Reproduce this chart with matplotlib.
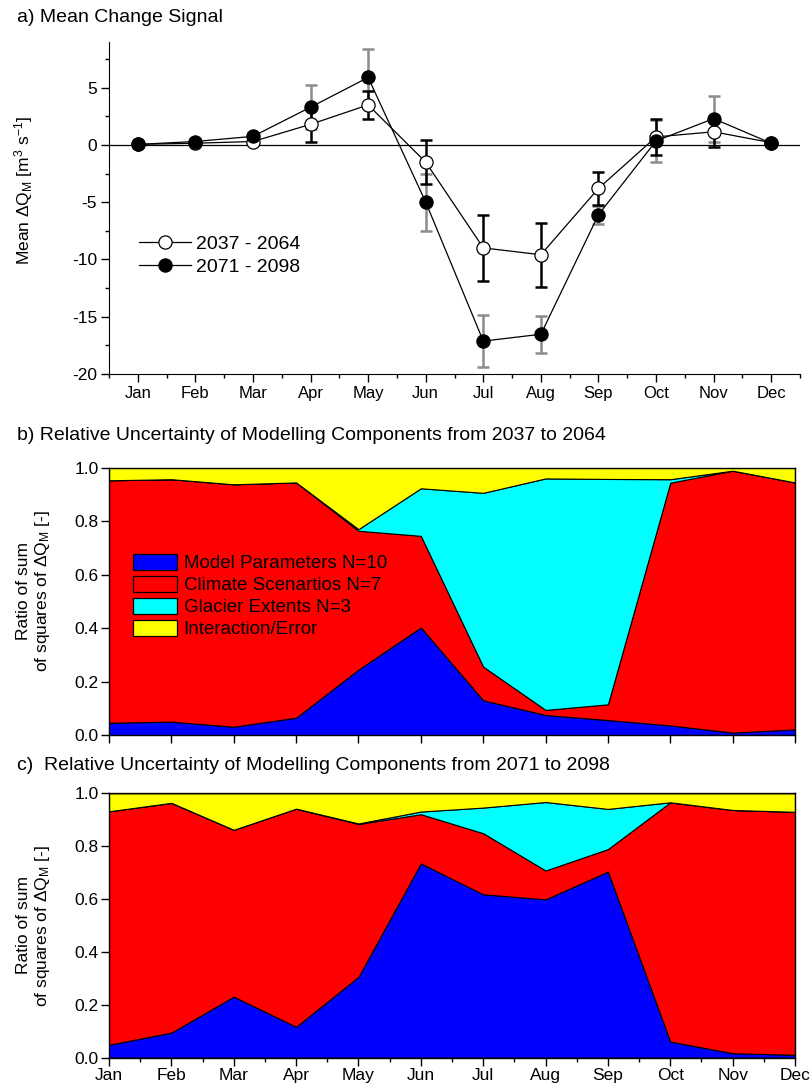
import matplotlib
matplotlib.use("Agg")
import matplotlib.pyplot as plt
import numpy as np
from matplotlib.patches import Patch

plt.rcParams['font.family'] = ['Liberation Sans', 'DejaVu Sans']
plt.rcParams['mathtext.fontset'] = 'custom'
plt.rcParams['mathtext.rm'] = 'Liberation Sans'
plt.rcParams['mathtext.it'] = 'Liberation Sans:italic'
plt.rcParams['mathtext.default'] = 'regular'
plt.rcParams['axes.unicode_minus'] = False

months = ['Jan', 'Feb', 'Mar', 'Apr', 'May', 'Jun', 'Jul', 'Aug', 'Sep', 'Oct', 'Nov', 'Dec']

# Panel a: mean change signal
mean_2037 = [0.05, 0.15, 0.3, 1.8, 3.5, -1.5, -9.0, -9.6, -3.8, 0.7, 1.15, 0.2]
err_2037 = [0.1, 0.15, 0.2, 1.5, 1.25, 1.95, 2.9, 2.8, 1.45, 1.6, 1.3, 0.15]
mean_2071 = [0.05, 0.3, 0.75, 3.3, 5.9, -5.0, -17.15, -16.55, -6.1, 0.35, 2.3, 0.15]
err_2071 = [0.1, 0.2, 0.3, 1.9, 2.5, 2.5, 2.3, 1.6, 0.8, 1.8, 2.0, 0.2]

# Panel b: 2037-2064 relative uncertainty components
b_model = [0.046, 0.050, 0.031, 0.065, 0.245, 0.403, 0.130, 0.075, 0.056, 0.036, 0.009, 0.021]
b_climate = [0.908, 0.908, 0.908, 0.881, 0.520, 0.343, 0.126, 0.019, 0.059, 0.909, 0.981, 0.925]
b_glacier = [0.0, 0.0, 0.0, 0.0, 0.006, 0.178, 0.651, 0.867, 0.844, 0.013, 0.0, 0.0]
b_inter = [0.046, 0.042, 0.061, 0.054, 0.229, 0.076, 0.093, 0.039, 0.041, 0.042, 0.010, 0.054]

# Panel c: 2071-2098 relative uncertainty components
c_model = [0.049, 0.095, 0.231, 0.117, 0.306, 0.735, 0.618, 0.599, 0.704, 0.061, 0.017, 0.011]
c_climate = [0.883, 0.869, 0.631, 0.825, 0.578, 0.186, 0.231, 0.109, 0.085, 0.905, 0.920, 0.919]
c_glacier = [0.0, 0.0, 0.0, 0.0, 0.002, 0.010, 0.097, 0.259, 0.152, 0.0, 0.0, 0.0]
c_inter = [0.068, 0.036, 0.138, 0.058, 0.114, 0.069, 0.054, 0.033, 0.059, 0.034, 0.063, 0.070]

comp_labels = ['Model Parameters N=10', 'Climate Scenartios N=7', 'Glacier Extents N=3', 'Interaction/Error']
comp_colors = ['#0000FF', '#FF0000', '#00FFFF', '#FFFF00']

W, H = 811, 1087
fig = plt.figure(figsize=(W / 100, H / 100), dpi=100)

def ax_rect(l, t, r, b):
    return [l / W, 1 - b / H, (r - l) / W, (b - t) / H]

x = np.arange(1, 13)
TICK_FS = 12.5
MONTH_FS = 12
TITLE_FS = 14
YLAB_FS = 12.5

# ---------- Panel a ----------
axa = fig.add_axes(ax_rect(109, 42, 800, 373.7))
axa.errorbar(x, mean_2071, yerr=err_2071, fmt='none', ecolor='#8c8c8c', elinewidth=1.8,
             capsize=4.5, capthick=1.8, zorder=2)
axa.errorbar(x, mean_2037, yerr=err_2037, fmt='none', ecolor='black', elinewidth=1.8,
             capsize=4.5, capthick=1.8, zorder=3)
axa.plot(x, mean_2037, '-', color='black', lw=0.9, marker='o', ms=9.5, mfc='white',
         mec='black', mew=0.9, zorder=4, label='2037 - 2064')
axa.plot(x, mean_2071, '-', color='black', lw=0.9, marker='o', ms=9.5, mfc='black',
         mec='black', mew=0.9, zorder=5, label='2071 - 2098')
axa.axhline(0, color='black', lw=0.9, zorder=1)
axa.set_xlim(0.5, 12.5)
axa.set_ylim(-20, 9)
axa.spines['top'].set_visible(False)
axa.spines['right'].set_visible(False)
axa.set_xticks(x)
axa.set_xticklabels(months, fontsize=MONTH_FS)
axa.set_xticks(np.arange(0.5, 13, 1), minor=True)
axa.set_yticks([-20, -15, -10, -5, 0, 5])
axa.set_yticks([-17.5, -12.5, -7.5, -2.5, 2.5, 7.5], minor=True)
axa.tick_params(axis='y', which='major', labelsize=TICK_FS)
axa.tick_params(axis='both', which='major', direction='out', length=5.5, width=1, pad=3)
axa.tick_params(axis='both', which='minor', direction='out', length=3, width=1)
axa.set_ylabel(r'Mean $\Delta$Q$_M$ [m$^3$ s$^{-1}$]', fontsize=YLAB_FS)
axa.yaxis.set_label_coords(-0.107, 0.554)
axa.legend(loc='center left', bbox_to_anchor=(0.03, 0.356), frameon=False, fontsize=14,
           handlelength=2.67, handletextpad=0.26, labelspacing=0.25, borderpad=0)

fig.text(17 / W, 1 - 18 / H, 'a) Mean Change Signal', fontsize=TITLE_FS, ha='left', va='center')

# ---------- Panels b, c ----------
def stack_panel(rect, comps, minor):
    ax = fig.add_axes(rect)
    ax.stackplot(x, *comps, colors=comp_colors, edgecolor='black', linewidth=0.8)
    ax.set_xlim(1, 12)
    ax.set_ylim(0, 1)
    ax.set_xticks(x)
    if minor:
        ax.set_xticks(np.arange(1.5, 12, 1), minor=True)
    ax.set_yticks([0, 0.2, 0.4, 0.6, 0.8, 1.0])
    ax.set_yticklabels(['0.0', '0.2', '0.4', '0.6', '0.8', '1.0'], fontsize=TICK_FS)
    ax.tick_params(axis='both', which='major', direction='out', length=5.5, width=1, pad=2)
    ax.tick_params(axis='both', which='minor', direction='out', length=3, width=1)
    ax.set_ylabel('Ratio of sum\n' + r'of squares of $\Delta$Q$_M$ [-]', fontsize=YLAB_FS,
                  linespacing=1.15)
    for s in ax.spines.values():
        s.set_linewidth(1)
    return ax

axb = stack_panel(ax_rect(109, 468, 795, 735), [b_model, b_climate, b_glacier, b_inter], False)
axb.set_xticklabels([])
axb.yaxis.set_label_coords(-0.083, 0.54)
handles = [Patch(facecolor=c, edgecolor='black', linewidth=0.9) for c in comp_colors]
axb.legend(handles, comp_labels, loc='center left', bbox_to_anchor=(0.022, 0.52), frameon=False,
           fontsize=13.5, handlelength=2.3, handleheight=0.9, handletextpad=0.37,
           labelspacing=0.2, borderpad=0)
fig.text(17 / W, 1 - 435 / H, 'b) Relative Uncertainty of Modelling Components from 2037 to 2064',
         fontsize=TITLE_FS, ha='left', va='center')

axc = stack_panel(ax_rect(109, 793.3, 795, 1057.7), [c_model, c_climate, c_glacier, c_inter], True)
axc.set_xticklabels(months, fontsize=MONTH_FS + 0.5)
axc.yaxis.set_label_coords(-0.083, 0.5)
fig.text(17 / W, 1 - 765 / H, 'c)  Relative Uncertainty of Modelling Components from 2071 to 2098',
         fontsize=TITLE_FS, ha='left', va='center')

fig.savefig('out.png', dpi=100)
